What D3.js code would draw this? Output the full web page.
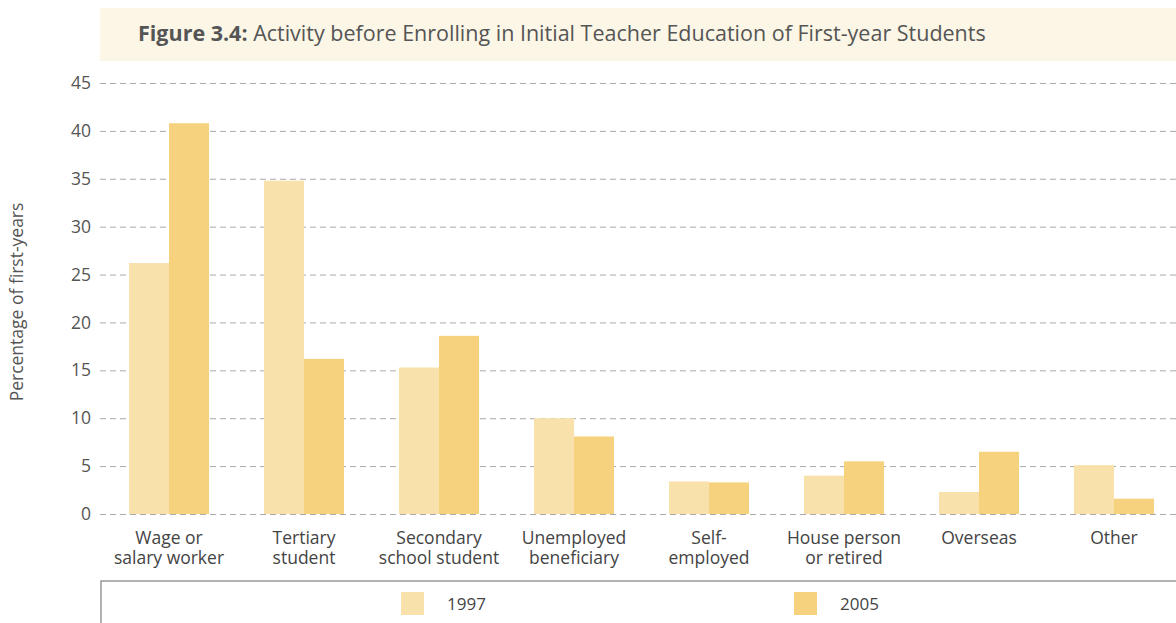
<!DOCTYPE html>
<html>
<head>
<meta charset="utf-8">
<script src="https://cdn.jsdelivr.net/npm/d3@7"></script>
<style>
body { margin: 0; background: #fff; }
svg { display: block; font-family: "Open Sans", sans-serif; }
</style>
</head>
<body>
<div id="canvas"></div>
<script>
// DATA -----------------------------------------------------
var categories = [
  ["Wage or", "salary worker"],
  ["Tertiary", "student"],
  ["Secondary", "school student"],
  ["Unemployed", "beneficiary"],
  ["Self-", "employed"],
  ["House person", "or retired"],
  ["Overseas"],
  ["Other"]
];
var values1997 = [26.2, 34.8, 15.3, 10.0, 3.4, 4.0, 2.3, 5.1];
var values2005 = [40.8, 16.2, 18.6, 8.1, 3.3, 5.5, 6.5, 1.6];
var seriesNames = ["1997", "2005"];
var yTicks = [0, 5, 10, 15, 20, 25, 30, 35, 40, 45];

// STRUCTURE ------------------------------------------------
var W = 1176, H = 623;
var colors = { "1997": "#f9e1ac", "2005": "#f6d27e" };

var svg = d3.select("#canvas").append("svg")
  .attr("width", W)
  .attr("height", H);

// title band
svg.append("rect")
  .attr("x", 100).attr("y", 8)
  .attr("width", W - 100).attr("height", 53)
  .attr("fill", "#fcf6e6");

var title = svg.append("text")
  .attr("x", 138).attr("y", 41)
  .attr("font-size", 21.5)
  .attr("fill", "#555");
title.append("tspan").attr("font-weight", "bold").text("Figure 3.4:");
title.append("tspan").text(" Activity before Enrolling in Initial Teacher Education of First-year Students");

// SCALES ---------------------------------------------------
var y = d3.scaleLinear().domain([0, 45]).range([514, 83]);

var keys = categories.map((c, i) => i);
var x = d3.scaleBand()
  .domain(keys)
  .range([101.5, 1181.5])
  .paddingInner(0.407)
  .paddingOuter(0.2035);

var xSub = d3.scaleBand()
  .domain(seriesNames)
  .range([0, x.bandwidth()]);

// grid lines
var grid = svg.append("g")
  .attr("transform", "translate(100,0)")
  .call(d3.axisLeft(y).tickValues(yTicks).tickSize(-(W - 100)).tickFormat(""));
grid.select(".domain").remove();
grid.selectAll("line")
  .attr("stroke", "#aaa")
  .attr("stroke-width", 1)
  .attr("stroke-dasharray", "6,4");

// y axis labels
var yAxis = svg.append("g")
  .attr("transform", "translate(91,0)")
  .call(d3.axisLeft(y).tickValues(yTicks).tickSize(0).tickPadding(0));
yAxis.select(".domain").remove();
yAxis.selectAll("text")
  .attr("font-family", "Open Sans, sans-serif")
  .attr("font-size", 17.5)
  .attr("fill", "#555");

svg.append("text")
  .attr("transform", "translate(23,302) rotate(-90)")
  .attr("text-anchor", "middle")
  .attr("font-size", 17.5)
  .attr("fill", "#555")
  .text("Percentage of first-years");

// BARS -----------------------------------------------------
var groups = svg.selectAll(".grp")
  .data(keys)
  .enter().append("g")
  .attr("class", "grp")
  .attr("transform", (d) => `translate(${x(d)},0)`);

groups.selectAll("rect")
  .data((d) => [
    { s: "1997", v: values1997[d] },
    { s: "2005", v: values2005[d] }
  ])
  .enter().append("rect")
  .attr("x", (d) => xSub(d.s))
  .attr("y", (d) => y(d.v))
  .attr("width", xSub.bandwidth())
  .attr("height", (d) => y(0) - y(d.v))
  .attr("fill", (d) => colors[d.s]);

// x labels, one line per text
groups.selectAll(".xlab")
  .data((d) => categories[d])
  .enter().append("text")
  .attr("class", "xlab")
  .attr("x", x.bandwidth() / 2)
  .attr("y", (d, i) => 544 + i * 20)
  .attr("text-anchor", "middle")
  .attr("font-size", 17.5)
  .attr("fill", "#444")
  .text((d) => d);

// LEGEND ---------------------------------------------------
svg.append("rect")
  .attr("x", 101).attr("y", 581)
  .attr("width", W - 100).attr("height", 60)
  .attr("fill", "none")
  .attr("stroke", "#999")
  .attr("stroke-width", 1.5);

var legendX = [401, 794];
var legend = svg.selectAll(".leg")
  .data(seriesNames)
  .enter().append("g")
  .attr("class", "leg")
  .attr("transform", (d, i) => `translate(${legendX[i]},592)`);

legend.append("rect")
  .attr("width", 23).attr("height", 23)
  .attr("fill", (d) => colors[d]);

legend.append("text")
  .attr("x", 46).attr("y", 18)
  .attr("font-size", 17)
  .attr("fill", "#444")
  .text((d) => d);
</script>
</body>
</html>
